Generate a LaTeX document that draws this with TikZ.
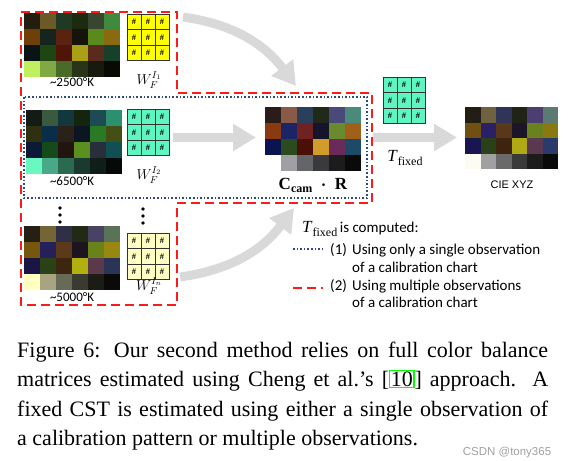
\documentclass[tikz,border=0pt]{standalone}
\usepackage{fontspec}
\setmainfont{Liberation Serif}
\newfontfamily\calibfont{Carlito}
\newfontfamily\arialfont{Liberation Sans}
\usetikzlibrary{arrows.meta}

\definecolor{redframe}{HTML}{FF1A1A}
\definecolor{blueframe}{HTML}{2F4A80}
\definecolor{arrowgrey}{HTML}{D9D9D9}
\definecolor{matyellow}{HTML}{FFFF00}
\definecolor{matgreen}{HTML}{5EF5C2}
\definecolor{matpale}{HTML}{FFFFC4}
\definecolor{linkgreen}{HTML}{00FF00}
\definecolor{markgrey}{HTML}{A0A0A0}

\setlength{\fboxsep}{0.5pt}
\setlength{\fboxrule}{1.2pt}

% 6x4 colour checker: node, cell size, 24 colours
\newcommand\colorchart[3]{%
  \begin{scope}[shift={(#1.north west)}]
    \foreach \hx [count=\i from 0] in {#3} {
      \pgfmathtruncatemacro\cc{mod(\i,6)}
      \pgfmathtruncatemacro\rr{div(\i,6)}
      \edef\setcell{\noexpand\definecolor{cellcol}{HTML}{\hx}}\setcell
      \fill[cellcol] (\cc*#2,\rr*#2) rectangle ++(#2,#2);
    }
  \end{scope}}

% 3x3 matrix of #: node, fill colour
\newcommand\hashgrid[2]{%
  \begin{scope}[shift={(#1.north west)}]
    \foreach \cc in {0,1,2} {
      \foreach \rr in {0,1,2} {
        \draw[gridcell, fill=#2] (\cc*14,\rr*15.5) rectangle ++(14,15.5);
        \node[hashmark] (#1-\cc\rr) at (\cc*14+7,\rr*15.5+7.75) {\#};
      }
    }
  \end{scope}}

\newcommand\Tfix[1]{{\fontsize{#1}{#1}\selectfont\textit{T}\raisebox{-4pt}{\fontsize{12}{12}\selectfont fixed}}}

\begin{document}
\begin{tikzpicture}[x=1pt, y=-1pt,
  chartbox/.style={anchor=north west, inner sep=0pt, minimum width=96pt, minimum height=64pt},
  matbox/.style={anchor=north west, inner sep=0pt, minimum width=42pt, minimum height=46.5pt},
  gridcell/.style={draw=black!80, line width=0.9pt},
  hashmark/.style={inner sep=0pt, font=\fontsize{8.5}{8.5}\selectfont\bfseries},
  templabel/.style={inner sep=0pt, font=\calibfont\fontsize{13}{13}\selectfont},
  wlabel/.style={inner sep=0pt, font=\fontsize{14.4}{14.4}\selectfont},
  legtext/.style={anchor=base west, inner sep=0pt, font=\calibfont\fontsize{15}{15}\selectfont},
  bigarrow/.style={draw=arrowgrey, line width=9pt, -{Triangle[length=23pt,width=26pt]}},
  redbox/.style={draw=redframe, line width=2.2pt, dash pattern=on 9pt off 5pt},
  bluebox/.style={draw=blueframe, line width=1.6pt, dotted},
  vdot/.style={fill=black}]
\useasboundingbox (0,0) rectangle (588,460);

% Grey arrows
\coordinate (topS) at (183,17);
\coordinate (topE) at (296,86);
\coordinate (midS) at (173,137.5);
\coordinate (midE) at (256,137.5);
\coordinate (rightS) at (373,137.5);
\coordinate (rightE) at (457,137.5);
\coordinate (botS) at (180,277);
\coordinate (botE) at (294,208);
\draw[bigarrow] (topS) to[out=-8,in=127] (topE);
\draw[bigarrow] (midS) -- (midE);
\draw[bigarrow] (rightS) -- (rightE);
\draw[bigarrow] (botS) to[out=8,in=-127] (botE);

% Charts under the three illuminants
\node[chartbox] (chartA) at (24,13) {};
\colorchart{chartA}{16}{231D0F,6B5A25,1F3A22,1C2A10,384530,3F8A3C,
  6E3F08,14241E,5A2310,16130C,5A8A1C,8A6A10,
  0A1416,1F4510,4F1508,A8A016,5A2A1C,17402A,
  C0F060,80A845,4A6A2A,2A3518,181A10,0A0A05}
\node[chartbox] (chartB) at (26,110) {};
\colorchart{chartB}{16}{141A14,3A5A3F,12383E,14240F,1E4A55,2A9070,
  2F3010,0A2E4A,2A2219,0C1620,2A7A25,444F15,
  0A1A38,154A1A,22140E,5A9020,2A2D3A,105055,
  68F8C0,48A888,2A6A50,1A3A30,0F1E18,050A08}
\node[chartbox] (chartC) at (24,226) {};
\colorchart{chartC}{16}{262014,746535,2F3045,222A14,4A4265,5A7258,
  77560E,25205A,5A3A1A,1C1520,6A821A,988810,
  1A1545,2A4015,3D2510,B0B010,5A3A4A,2A3555,
  FFFFC0,A8A482,686A58,3A3A30,1C1C16,0A0A08}
\node[templabel] (tempA) at (72,82) {\textasciitilde 2500°K};
\node[templabel] (tempB) at (72,181) {\textasciitilde 6500°K};
\node[templabel] (tempC) at (72,297) {\textasciitilde 5000°K};

% Balance matrices
\node[matbox] (matA) at (127,14) {};
\hashgrid{matA}{matyellow}
\node[matbox] (matB) at (127,109) {};
\hashgrid{matB}{matgreen}
\node[matbox] (matC) at (127,233) {};
\hashgrid{matC}{matpale}
\node[wlabel] (wA) at (149,80) {$W_F^{I_1}$};
\node[wlabel] (wB) at (149,175) {$W_F^{I_2}$};
\node[wlabel] (wC) at (149,286) {$W_F^{I_n}$};
\foreach \d in {0,7,14} {
  \fill[vdot] (60,208+\d) circle (1.8pt);
  \fill[vdot] (143,209+\d) circle (1.8pt);
}

% Balanced chart and CIE XYZ
\node[chartbox] (camchart) at (265,107) {};
\colorchart{camchart}{16}{2A1C18,8A5A48,2A3F5A,23291A,4A4A7A,4A8A7A,
  8A3A10,1C2468,702222,15142A,6A8A30,A0601A,
  0C1450,2A4A20,4A1008,D09C2A,6A2A5A,1E4A6A,
  FFFFFF,A0A0A4,646568,3A3A3C,1C1C1C,0A0A0A}
\node[inner sep=0pt, font=\fontsize{17}{17}\selectfont] (camlbl) at (313,185)
  {\textbf{C\raisebox{-3pt}{\fontsize{12}{12}\selectfont cam}}\enspace{\boldmath$\cdot$}\enspace\textbf{R}};
\node[matbox] (matT) at (383,77) {};
\hashgrid{matT}{matgreen}
\node[inner sep=0pt] (tfixlbl) at (405,158) {\Tfix{17}};
\node[chartbox, minimum width=93pt, minimum height=62pt] (xyzchart) at (465,107) {};
\colorchart{xyzchart}{15.5}{221E14,706240,2F3458,1F2414,4A3F70,5A7A72,
  705010,2A2065,583818,1C1428,6A821E,8A7810,
  181550,2A4018,3E2410,B0A814,5A3850,2A3A6A,
  FCFCF2,A0A0A0,6A6A6A,3A3A3A,1C1C1C,0A0A0A}
\node[inner sep=0pt, font=\arialfont\fontsize{11}{11}\selectfont] (xyzlbl) at (512,185) {CIE XYZ};

% Frames
\draw[bluebox] (24,97) rectangle (367,198);
\draw[redbox] (21,12) -- (177,12) -- (177,93) -- (372,93) -- (372,203)
  -- (177,203) -- (177,305) -- (21,305) -- cycle;

% Legend
\node[anchor=base west, inner sep=0pt] (legT) at (302,232)
  {\Tfix{17}\ {\calibfont\fontsize{15}{15}\selectfont is computed:}};
\draw[bluebox] (293,249) -- (323,249);
\draw[redbox] (293,288) -- (323,288);
\node[legtext] (num1) at (330,254) {(1)};
\node[legtext] (leg1a) at (352,254) {Using only a single observation};
\node[legtext] (leg1b) at (352,272) {of a calibration chart};
\node[legtext] (num2) at (330,290) {(2)};
\node[legtext] (leg2a) at (352,290) {Using multiple observations};
\node[legtext] (leg2b) at (352,307) {of a calibration chart};

% Caption
\node[anchor=base west, inner sep=0pt, text width=531pt, align=justify,
  font=\fontsize{22}{29.5}\selectfont] (caption) at (17,357)
  {Figure 6: Our second method relies on full color balance\linebreak
   matrices estimated using Cheng et al.'s [\fcolorbox{linkgreen}{white}{10}] approach.\ \ A\linebreak
   fixed CST is estimated using either a single observation of\linebreak
   a calibration pattern or multiple observations.};
\node[inner sep=0pt, text=markgrey, font=\arialfont\fontsize{11.5}{11.5}\selectfont] (wmark) at (507,453) {CSDN @tony365};
\end{tikzpicture}
\end{document}
